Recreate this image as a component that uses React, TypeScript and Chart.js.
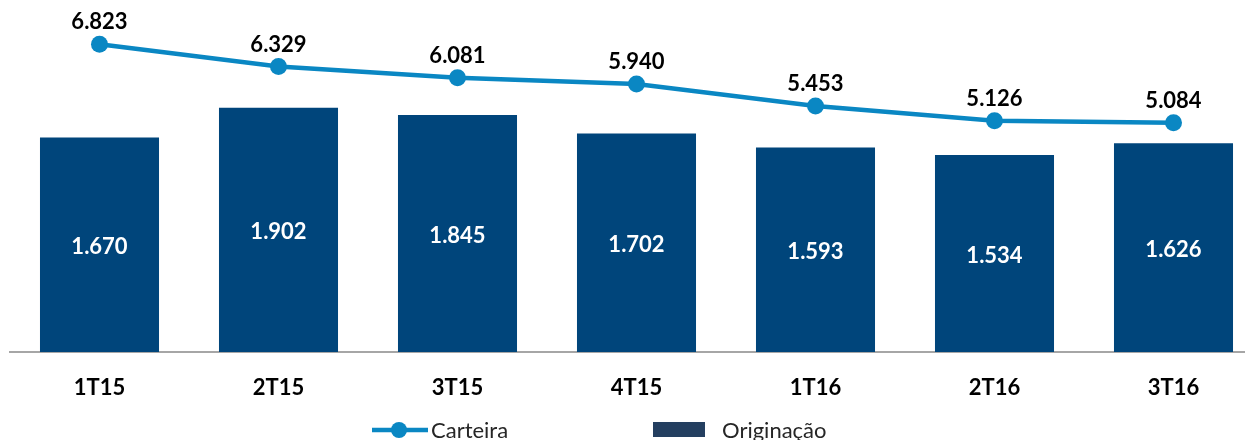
import React, { useEffect, useRef } from "react";
import { Chart, registerables } from "chart.js";

Chart.register(...registerables);

const categories = ["1T15", "2T15", "3T15", "4T15", "1T16", "2T16", "3T16"];
const carteira = [6823, 6329, 6081, 5940, 5453, 5126, 5084];
const originacao = [1670, 1902, 1845, 1702, 1593, 1534, 1626];
const seriesNames = ["Carteira", "Originação"];

const FONT = "Lato, 'Open Sans', sans-serif";
const LINE_COLOR = "#0a87c3";
const BAR_COLOR = "#00457b";
const LEGEND_BAR_COLOR = "#243f60";

const fmt = (v: number) => {
  const s = String(Math.round(v));
  return s.length > 3 ? s.slice(0, -3) + "." + s.slice(-3) : s;
};

const labelPlugin = {
  id: "valueLabels",
  afterDatasetsDraw(chart: any) {
    const ctx = chart.ctx;
    ctx.save();
    ctx.textAlign = "center";
    ctx.textBaseline = "middle";
    ctx.font = `bold 22px ${FONT}`;
    const barMeta = chart.getDatasetMeta(1);
    barMeta.data.forEach((el: any, i: number) => {
      const { x, y, base } = el.getProps(["x", "y", "base"], true);
      ctx.fillStyle = "#ffffff";
      ctx.fillText(fmt(originacao[i]), x, (y + base) / 2 + 2);
    });
    const lineMeta = chart.getDatasetMeta(0);
    lineMeta.data.forEach((el: any, i: number) => {
      const { x, y } = el.getProps(["x", "y"], true);
      ctx.fillStyle = "#000000";
      ctx.fillText(fmt(carteira[i]), x, y - 22);
    });
    ctx.restore();
  },
};

const legendPlugin = {
  id: "customLegend",
  afterDraw(chart: any) {
    const ctx = chart.ctx;
    ctx.save();
    // Carteira
    ctx.strokeStyle = LINE_COLOR;
    ctx.lineWidth = 4.5;
    ctx.beginPath();
    ctx.moveTo(372, 430);
    ctx.lineTo(428, 430);
    ctx.stroke();
    ctx.fillStyle = LINE_COLOR;
    ctx.beginPath();
    ctx.arc(399, 430, 8, 0, Math.PI * 2);
    ctx.fill();
    ctx.font = `22px ${FONT}`;
    ctx.textAlign = "left";
    ctx.textBaseline = "alphabetic";
    ctx.fillStyle = "#262626";
    ctx.fillText(seriesNames[0], 431, 438);
    // Originação
    ctx.fillStyle = LEGEND_BAR_COLOR;
    ctx.fillRect(653, 422, 52, 15);
    ctx.fillStyle = "#262626";
    ctx.fillText(seriesNames[1], 722, 438);
    ctx.restore();
  },
};

export default function App() {
  const ref = useRef<HTMLCanvasElement | null>(null);
  useEffect(() => {
    if (!ref.current) return;
    const chart = new Chart(ref.current, {
      type: "bar",
      data: {
        labels: categories,
        datasets: [
          {
            type: "line",
            label: seriesNames[0],
            data: carteira,
            yAxisID: "y2",
            borderColor: LINE_COLOR,
            backgroundColor: LINE_COLOR,
            borderWidth: 4.5,
            pointRadius: 8.5,
            pointHoverRadius: 8.5,
            pointBackgroundColor: LINE_COLOR,
            pointBorderWidth: 0,
            tension: 0,
            order: 0,
          } as any,
          {
            type: "bar",
            label: seriesNames[1],
            data: originacao,
            yAxisID: "y",
            backgroundColor: BAR_COLOR,
            borderWidth: 0,
            barPercentage: 0.665,
            categoryPercentage: 1,
            order: 1,
          } as any,
        ],
      },
      options: {
        responsive: false,
        animation: false,
        events: [],
        layout: { autoPadding: false, padding: { left: 10, right: 2, top: 0, bottom: 0 } },
        plugins: {
          legend: { display: false },
          tooltip: { enabled: false },
          title: { display: false },
        },
        scales: {
          x: {
            grid: { display: false, drawTicks: false },
            border: { display: true, color: "#a6a6a6", width: 2 },
            ticks: {
              color: "#000000",
              font: { family: FONT, size: 22, weight: "bold" },
              padding: 23,
              maxRotation: 0,
            },
            afterFit: (scale: any) => {
              scale.height = 88;
            },
          },
          y: {
            display: false,
            min: 0,
            max: 2741,
          },
          y2: {
            display: false,
            position: "right",
            min: 0,
            max: 7805,
          },
        },
      } as any,
      plugins: [labelPlugin, legendPlugin],
    });
    return () => chart.destroy();
  }, []);

  return (
    <div
      style={{
        position: "fixed",
        left: 0,
        top: 0,
        width: 1245,
        height: 440,
        overflow: "hidden",
        background: "#ffffff",
      }}
    >
      <canvas ref={ref} width={1265} height={440} style={{ display: "block" }} />
    </div>
  );
}
